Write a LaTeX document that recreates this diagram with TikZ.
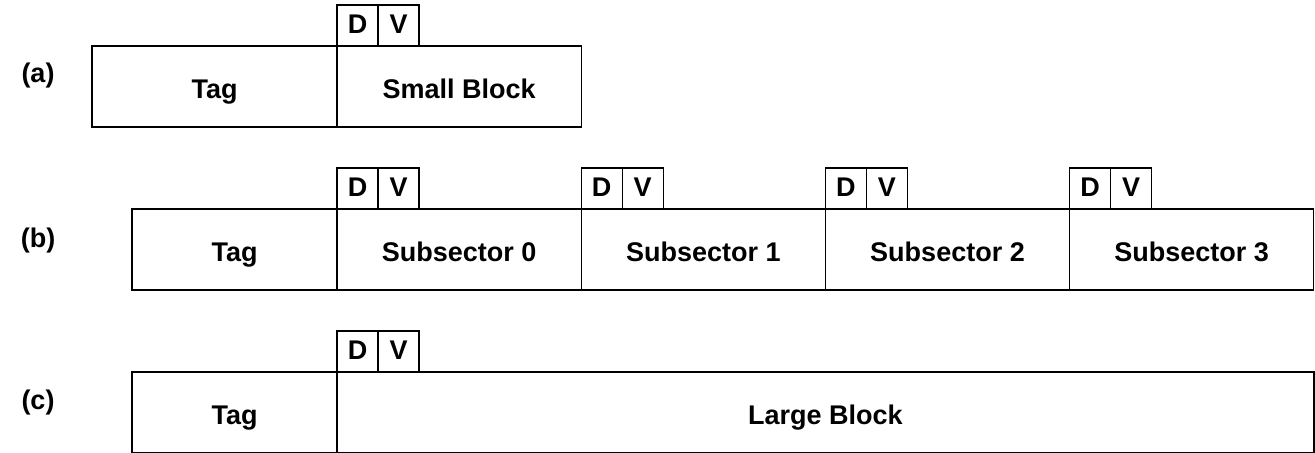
\documentclass[tikz,border=0pt]{standalone}
\usepackage{fontspec}
\setmainfont{Liberation Sans}
\usetikzlibrary{positioning}
\tikzstyle{block} = [draw, rectangle, outer sep=0pt, inner sep=0pt, line width=0.6pt, minimum height=40.5pt, text height=12.5pt, text depth=1pt, font=\bfseries\fontsize{13.5}{16}\selectfont]
\tikzstyle{tag} = [block, minimum width=102.5pt]
\tikzstyle{sector} = [block, minimum width=122.1pt]
\tikzstyle{bit} = [block, minimum width=20.5pt, minimum height=20.5pt, text height=9pt, text depth=1.2pt]
\tikzstyle{rowlabel} = [font=\bfseries\fontsize{13.5}{16}\selectfont]

\begin{document}
\begin{tikzpicture}[x=0.5pt, y=-0.5pt]
    \useasboundingbox (0,0) rectangle (1315,452);
    \clip (0,0) rectangle (1315,452);

    % (a) one small block per tag
    \node (lab a) [rowlabel] at (38,76) {(a)};
    \node (tag a) [tag, minimum width=122.5pt, anchor=north west] at (92,46) {Tag};
    \node (small) [sector, right=0pt of tag a] {Small Block};
    \node (d a) [bit, above right=0pt and 0pt of small.north west] {D};
    \node (v a) [bit, right=0pt of d a] {V};

    % (b) four subsectors, each with its own bits
    \node (lab b) [rowlabel] at (38,241) {(b)};
    \node (tag b) [tag, anchor=north west] at (132,209) {Tag};
    \node (sub 0) [sector, right=0pt of tag b] {Subsector 0};
    \node (sub 1) [sector, right=0pt of sub 0] {Subsector 1};
    \node (sub 2) [sector, right=0pt of sub 1] {Subsector 2};
    \node (sub 3) [sector, right=0pt of sub 2] {Subsector 3};
    \node (d 0) [bit, above right=0pt and 0pt of sub 0.north west] {D};
    \node (v 0) [bit, right=0pt of d 0] {V};
    \node (d 1) [bit, above right=0pt and 0pt of sub 1.north west] {D};
    \node (v 1) [bit, right=0pt of d 1] {V};
    \node (d 2) [bit, above right=0pt and 0pt of sub 2.north west] {D};
    \node (v 2) [bit, right=0pt of d 2] {V};
    \node (d 3) [bit, above right=0pt and 0pt of sub 3.north west] {D};
    \node (v 3) [bit, right=0pt of d 3] {V};

    % (c) one large block per tag
    \node (lab c) [rowlabel] at (38,403) {(c)};
    \node (tag c) [tag, anchor=north west] at (132,372) {Tag};
    \node (large) [block, minimum width=488.5pt, right=0pt of tag c] {Large Block};
    \node (d c) [bit, above right=0pt and 0pt of large.north west] {D};
    \node (v c) [bit, right=0pt of d c] {V};
\end{tikzpicture}
\end{document}
